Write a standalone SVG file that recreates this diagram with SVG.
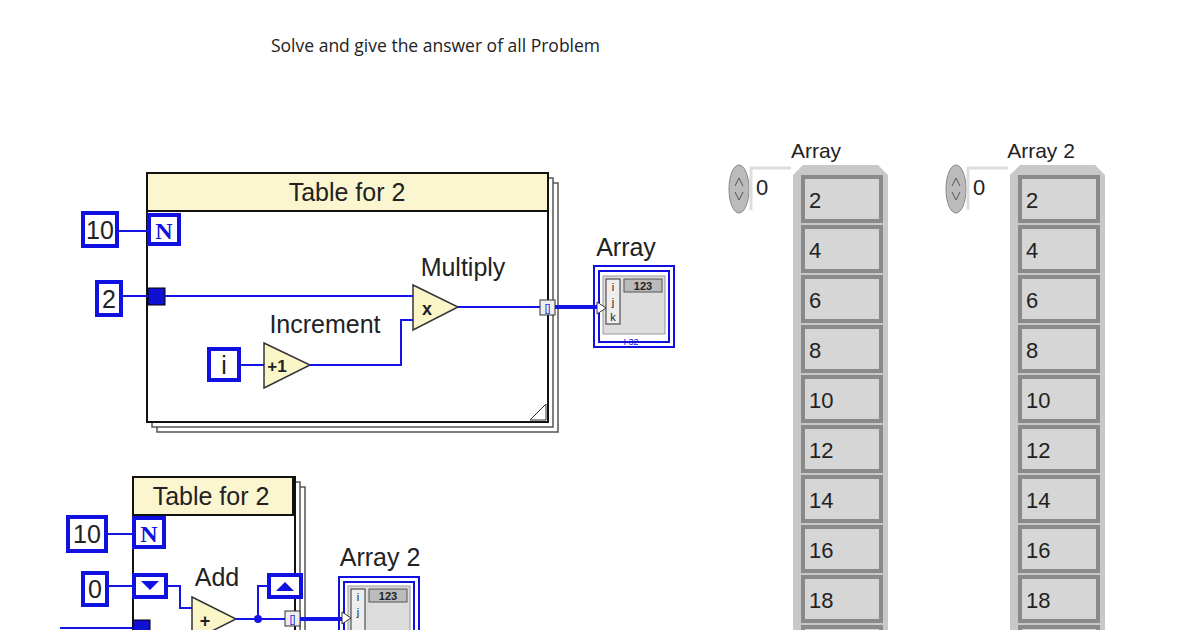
<svg xmlns="http://www.w3.org/2000/svg" width="1200" height="630" viewBox="0 0 1200 630">
<style>
text{font-family:"Liberation Sans","DejaVu Sans",sans-serif;fill:#222}
.lbl{font-size:25px}
.cst{fill:#fff;stroke:#1010e0;stroke-width:4}
.w{fill:none;stroke:#1414e6;stroke-width:2}
.tri{fill:#fbf6c8;stroke:#333;stroke-width:1.5}
.frame{fill:#fff;stroke:#111;stroke-width:2}
.hdr{fill:#fbf6cf;stroke:#111;stroke-width:2}
.cell{fill:#d6d6d6;stroke:#8a8a8a;stroke-width:4}
.num{font-size:22px;font-family:"Liberation Sans Narrow","Liberation Sans",sans-serif}
.col{fill:#c8c8c8}
</style>
<rect width="1200" height="630" fill="#fff"/>
<text x="271" y="52" font-size="17.5" style="font-family:'Open Sans','Liberation Sans',sans-serif">Solve and give the answer of all Problem</text>

<g id="loop1">
<rect x="157" y="183" width="401" height="249" fill="#fff" stroke="#555" stroke-width="1.5"/>
<rect x="152" y="178" width="401" height="249" fill="#fff" stroke="#555" stroke-width="1.5"/>
<rect class="frame" x="147" y="173" width="401" height="249"/>
<rect class="hdr" x="147" y="173" width="401" height="38"/>
<text x="347" y="201" class="lbl" text-anchor="middle">Table for 2</text>
<path d="M530 420 L546 404 L546 420 Z" fill="#fff" stroke="#333"/>
</g>
<g id="n10"><rect class="cst" x="83" y="213" width="34" height="33"/><text x="100" y="239" class="lbl" text-anchor="middle">10</text></g>
<g id="N1"><rect class="cst" x="149" y="215" width="30" height="29"/><text x="164" y="239" font-size="24" font-weight="bold" text-anchor="middle" style="fill:#1010e0;font-family:'Liberation Serif',serif">N</text></g>
<g id="c2"><rect class="cst" x="97" y="282" width="24" height="33"/><text x="109" y="308" class="lbl" text-anchor="middle">2</text></g>
<g id="sr1"><rect x="148" y="288" width="17" height="17" fill="#1010d0" stroke="#000"/></g>
<g id="mul"><path class="tri" d="M413 285 L458 307 L413 330 Z"/><text x="427" y="315" font-size="18" font-weight="bold" text-anchor="middle">x</text><text x="463" y="276" class="lbl" text-anchor="middle">Multiply</text></g>
<g id="iter"><rect class="cst" x="209" y="349" width="30" height="31"/><text x="224" y="374" class="lbl" text-anchor="middle">i</text></g>
<g id="inc"><path class="tri" d="M264 343 L310 365 L264 388 Z"/><text x="277" y="372" font-size="17" font-weight="bold" text-anchor="middle">+1</text><text x="325" y="333" class="lbl" text-anchor="middle">Increment</text></g>
<g id="tun1"><rect x="540" y="300" width="15" height="15" fill="#eee" stroke="#333"/><text x="547.5" y="312" font-size="10" text-anchor="middle" style="fill:#1010e0">[]</text></g>
<g id="arr1">
<text x="626" y="256" class="lbl" text-anchor="middle">Array</text>
<rect x="594" y="266" width="80" height="81" fill="#fff" stroke="#1010e0" stroke-width="2"/>
<rect x="599" y="271" width="70" height="71" fill="#fff" stroke="#1010e0" stroke-width="2"/>
<rect x="603" y="276" width="62" height="58" fill="#ddd" stroke="#999"/>
<rect x="606" y="279" width="14" height="45" fill="#eee" stroke="#333"/>
<text x="613" y="291" font-size="11" text-anchor="middle">i</text><text x="613" y="306" font-size="11" text-anchor="middle">j</text><text x="613" y="321" font-size="11" text-anchor="middle">k</text>
<rect x="624" y="279" width="38" height="13" fill="#bbb" stroke="#555"/><text x="643" y="290" font-size="11" font-weight="bold" text-anchor="middle">123</text>
<text x="631" y="345" font-size="9" text-anchor="middle" style="fill:#1010e0">I 32</text>
<path d="M597 302 L606 308 L597 314 Z" fill="#fff" stroke="#333"/>
</g>

<g id="loop2">
<rect x="143" y="487" width="162" height="160" fill="#fff" stroke="#555" stroke-width="1.5"/>
<rect x="138" y="482" width="162" height="160" fill="#fff" stroke="#555" stroke-width="1.5"/>
<rect class="frame" x="133" y="477" width="162" height="160"/>
<rect class="hdr" x="133" y="477" width="160" height="38"/>
<text x="211" y="505" class="lbl" text-anchor="middle">Table for 2</text>
</g>
<g id="n10b"><rect class="cst" x="68" y="517" width="38" height="34"/><text x="87" y="543" class="lbl" text-anchor="middle">10</text></g>
<g id="N2"><rect class="cst" x="134" y="518" width="30" height="29"/><text x="149" y="542" font-size="24" font-weight="bold" text-anchor="middle" style="fill:#1010e0;font-family:'Liberation Serif',serif">N</text></g>
<g id="c0"><rect class="cst" x="83" y="573" width="24" height="32"/><text x="95" y="598" class="lbl" text-anchor="middle">0</text></g>
<g id="srL"><rect class="cst" x="134" y="575" width="32" height="22"/><path d="M141 581 L159 581 L150 590 Z" fill="#1010e0"/></g>
<g id="srR"><rect class="cst" x="269" y="575" width="32" height="22"/><path d="M276 591 L294 591 L285 582 Z" fill="#1010e0"/></g>
<g id="add"><path class="tri" d="M192 597 L236 619 L192 641 Z"/><text x="205" y="627" font-size="18" font-weight="bold" text-anchor="middle">+</text><text x="217" y="586" class="lbl" text-anchor="middle">Add</text></g>
<g id="tun2"><rect x="285" y="611" width="15" height="15" fill="#eee" stroke="#333"/><text x="292.5" y="623" font-size="10" text-anchor="middle" style="fill:#1010e0">[]</text></g>
<g id="sr2"><rect x="133" y="620" width="17" height="12" fill="#1010d0" stroke="#000"/></g>
<g id="arr2">
<text x="380" y="566" class="lbl" text-anchor="middle">Array 2</text>
<rect x="339" y="577" width="80" height="70" fill="#fff" stroke="#1010e0" stroke-width="2"/>
<rect x="344" y="582" width="70" height="60" fill="#fff" stroke="#1010e0" stroke-width="2"/>
<rect x="348" y="586" width="62" height="50" fill="#ddd" stroke="#999"/>
<rect x="351" y="589" width="14" height="45" fill="#eee" stroke="#333"/>
<text x="358" y="601" font-size="11" text-anchor="middle">i</text><text x="358" y="616" font-size="11" text-anchor="middle">j</text>
<rect x="369" y="589" width="38" height="13" fill="#bbb" stroke="#555"/><text x="388" y="600" font-size="11" font-weight="bold" text-anchor="middle">123</text>
<path d="M342 612 L351 618 L342 624 Z" fill="#fff" stroke="#333"/>
</g>

<g id="connectors">
<path class="w" d="M117 231 H149"/>
<path class="w" d="M121 296 H148 M165 296 H413"/>
<path class="w" d="M239 365 H264"/>
<path class="w" d="M310 365 H401 V320 H413"/>
<path class="w" d="M458 307 H540"/>
<path d="M555 307 H597" fill="none" stroke="#1414e6" stroke-width="4"/>
<path class="w" d="M106 534 H134"/>
<path class="w" d="M107 586 H134"/>
<path class="w" d="M166 586 H180 V608 H192"/>
<path class="w" d="M236 619 H285 M258 619 V586 H269"/>
<circle cx="258" cy="619" r="4" fill="#1414e6"/>
<path d="M300 619 H342" fill="none" stroke="#1414e6" stroke-width="4"/>
<path class="w" d="M60 628 H133"/>
</g>

<g id="display1">
<text x="816" y="158" font-size="21" text-anchor="middle" style="font-family:'Liberation Sans Narrow','Liberation Sans',sans-serif">Array</text>
<ellipse cx="739" cy="189" rx="10" ry="24" fill="#bbb" stroke="#888"/>
<path d="M735 186 L739 178 L743 186 M735 192 L739 200 L743 192" fill="none" stroke="#555"/>
<rect x="751" y="168" width="40" height="42" fill="#fff"/>
<path d="M751 210 V168 H791" fill="none" stroke="#ddd" stroke-width="3"/>
<text x="756" y="195" class="num">0</text>
<path d="M793 630 V175 L803 165 H878 L888 175 V630 Z" class="col"/>
<g transform="translate(801,0)">
<rect class="cell" x="2" y="177" width="78" height="44"/><text x="8" y="208" class="num">2</text>
<rect class="cell" x="2" y="227" width="78" height="44"/><text x="8" y="258" class="num">4</text>
<rect class="cell" x="2" y="277" width="78" height="44"/><text x="8" y="308" class="num">6</text>
<rect class="cell" x="2" y="327" width="78" height="44"/><text x="8" y="358" class="num">8</text>
<rect class="cell" x="2" y="377" width="78" height="44"/><text x="8" y="408" class="num">10</text>
<rect class="cell" x="2" y="427" width="78" height="44"/><text x="8" y="458" class="num">12</text>
<rect class="cell" x="2" y="477" width="78" height="44"/><text x="8" y="508" class="num">14</text>
<rect class="cell" x="2" y="527" width="78" height="44"/><text x="8" y="558" class="num">16</text>
<rect class="cell" x="2" y="577" width="78" height="44"/><text x="8" y="608" class="num">18</text>
<rect class="cell" x="2" y="627" width="78" height="44"/>
</g>
</g>
<g id="display2">
<text x="1041" y="158" font-size="21" text-anchor="middle" style="font-family:'Liberation Sans Narrow','Liberation Sans',sans-serif">Array 2</text>
<ellipse cx="956" cy="189" rx="10" ry="24" fill="#bbb" stroke="#888"/>
<path d="M952 186 L956 178 L960 186 M952 192 L956 200 L960 192" fill="none" stroke="#555"/>
<rect x="968" y="168" width="40" height="42" fill="#fff"/>
<path d="M968 210 V168 H1008" fill="none" stroke="#ddd" stroke-width="3"/>
<text x="973" y="195" class="num">0</text>
<path d="M1010 630 V175 L1020 165 H1095 L1105 175 V630 Z" class="col"/>
<g transform="translate(1018,0)">
<rect class="cell" x="2" y="177" width="78" height="44"/><text x="8" y="208" class="num">2</text>
<rect class="cell" x="2" y="227" width="78" height="44"/><text x="8" y="258" class="num">4</text>
<rect class="cell" x="2" y="277" width="78" height="44"/><text x="8" y="308" class="num">6</text>
<rect class="cell" x="2" y="327" width="78" height="44"/><text x="8" y="358" class="num">8</text>
<rect class="cell" x="2" y="377" width="78" height="44"/><text x="8" y="408" class="num">10</text>
<rect class="cell" x="2" y="427" width="78" height="44"/><text x="8" y="458" class="num">12</text>
<rect class="cell" x="2" y="477" width="78" height="44"/><text x="8" y="508" class="num">14</text>
<rect class="cell" x="2" y="527" width="78" height="44"/><text x="8" y="558" class="num">16</text>
<rect class="cell" x="2" y="577" width="78" height="44"/><text x="8" y="608" class="num">18</text>
<rect class="cell" x="2" y="627" width="78" height="44"/>
</g>
</g>
</svg>
